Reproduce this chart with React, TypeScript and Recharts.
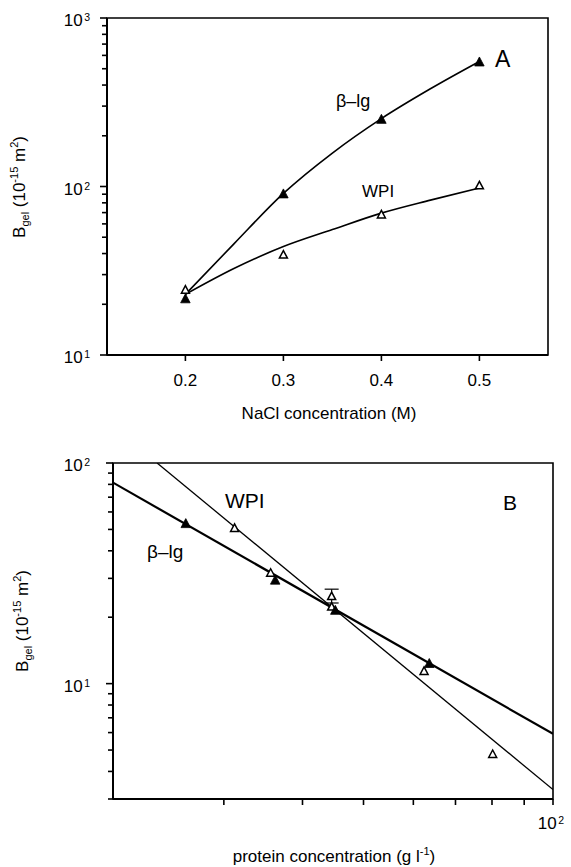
import React from 'react';
import { ComposedChart, Line, Scatter, XAxis, YAxis, ReferenceArea, ErrorBar } from 'recharts';

const FONT = '"Liberation Sans", Arial, Helvetica, sans-serif';

// ---- panel A : Bgel vs NaCl concentration ----
const naclConc = [0.2, 0.3, 0.4, 0.5];
const blgBgelA = [21.7, 91, 252, 552];
const wpiBgelA = [24.5, 39.6, 68.5, 102];
// fitted curves
const fitConcA = [0.2, 0.25, 0.3, 0.35, 0.4, 0.45, 0.5];
const blgFitA = [22.9, 46, 91, 158, 253, 380, 552];
const wpiFitA = [22.9, 32.7, 44, 55.5, 69.5, 83, 98];
const naclTicks = [0.2, 0.3, 0.4, 0.5];
const bgelTicksA = [10, 20, 30, 40, 50, 60, 70, 80, 90, 100, 200, 300, 400, 500, 600, 700, 800, 900, 1000];

// ---- panel B : Bgel vs protein concentration ----
const blgConcB = [26.1, 36.2, 45.1, 63.6];
const blgBgelB = [53.4, 29.6, 21.6, 12.4];
const wpiConcB = [31.2, 35.6, 44.5, 44.5, 62.4, 80.2];
const wpiBgelB = [50.9, 31.9, 25.0, 22.4, 11.45, 4.81];
const wpiErrConcB = [44.5];
const wpiErrBgelB = [25.0];
const wpiErrB = [1.8];
const blgFitConcB = [20, 100];
const blgFitB = [81.5, 5.92];
const wpiFitConcB = [23.5, 100];
const wpiFitB = [100, 3.31];
const protTicks = [30, 40, 50, 60, 70, 80, 90, 100];
const bgelTicksB = [3, 4, 5, 6, 7, 8, 9, 10, 20, 30, 40, 50, 60, 70, 80, 90, 100];

const pts = (xs: number[], ys: number[]) => xs.map((x, i) => ({ x, y: ys[i] }));

const Tri = ({ cx, cy, filled }: any) => {
  if (cx == null || cy == null) return <g />;
  const w = filled ? 9.5 : 8;
  const h = filled ? 9 : 7.5;
  return (
    <path
      d={`M${cx},${cy - h / 2} L${cx + w / 2},${cy + h / 2} L${cx - w / 2},${cy + h / 2} Z`}
      fill={filled ? '#000' : '#fff'}
      stroke="#000"
      strokeWidth={filled ? 0.8 : 1.5}
    />
  );
};

const LogYTick = ({ x, y, payload, gap }: any) => {
  const v = payload.value;
  const exp = Math.round(Math.log10(v));
  const major = Math.abs(Math.pow(10, exp) - v) < 1e-6;
  return (
    <g>
      <path d={`M${x - (major ? 7 : 5)},${y}H${x}`} stroke="#000" strokeWidth={1.6} fill="none" />
      {major && (
        <text x={x - gap} y={y + 8} textAnchor="end" fontSize={17} fontFamily={FONT} fill="#000">
          10<tspan dx={1.5} dy={-5} fontSize={10.5}>{exp}</tspan>
        </text>
      )}
    </g>
  );
};

const NaclTick = ({ x, y, payload }: any) => (
  <g>
    <path d={`M${x},${y}V${y + 6}`} stroke="#000" strokeWidth={1.6} fill="none" />
    <text x={x} y={y + 31} textAnchor="middle" fontSize={17} fontFamily={FONT} fill="#000">
      {payload.value.toFixed(1)}
    </text>
  </g>
);

const ProtTick = ({ x, y, payload }: any) => (
  <g>
    <path d={`M${x},${y}V${y + 6}`} stroke="#000" strokeWidth={1.6} fill="none" />
    {payload.value === 100 && (
      <text x={x - 2} y={y + 30} textAnchor="middle" fontSize={17} fontFamily={FONT} fill="#000">
        10<tspan dx={1.5} dy={-5} fontSize={10.5}>2</tspan>
      </text>
    )}
  </g>
);

const BgelTitle = ({ x, y }: { x: number; y: number }) => (
  <text transform={`translate(${x},${y}) rotate(-90)`} textAnchor="middle" fontSize={17} fontFamily={FONT} fill="#000">
    B<tspan fontSize={11} dy={4}>gel</tspan>
    <tspan dy={-4}> (10</tspan>
    <tspan fontSize={11} dy={-7}>-15</tspan>
    <tspan dy={7}> m</tspan>
    <tspan fontSize={11} dy={-7}>2</tspan>
    <tspan dy={7}>)</tspan>
  </text>
);

export default function App() {
  return (
    <div style={{ position: 'absolute', left: 0, top: 0, width: 571, height: 867, background: '#fff', overflow: 'hidden' }}>
      <div style={{ position: 'absolute', left: 0, top: 0 }}>
        <ComposedChart width={571} height={430} margin={{ top: 18, right: 23, bottom: 0, left: 0 }}>
          <XAxis
            type="number"
            dataKey="x"
            domain={[0.12, 0.57]}
            ticks={naclTicks}
            interval={0}
            allowDataOverflow
            height={75}
            tickSize={0}
            tickMargin={0}
            tickLine={false}
            axisLine={{ stroke: '#000', strokeWidth: 2 }}
            tick={(p: any) => <NaclTick {...p} />}
          />
          <YAxis
            type="number"
            scale="log"
            domain={[10, 1000]}
            ticks={bgelTicksA}
            interval={0}
            allowDataOverflow
            width={107}
            tickSize={0}
            tickMargin={0}
            tickLine={false}
            axisLine={{ stroke: '#000', strokeWidth: 2 }}
            tick={(p: any) => <LogYTick {...p} gap={17} />}
          />
          <ReferenceArea x1={0.12} x2={0.57} y1={10} y2={1000} fill="none" stroke="#000" strokeWidth={1.6} ifOverflow="visible" />
          <Line data={pts(fitConcA, blgFitA)} dataKey="y" type="monotone" stroke="#000" strokeWidth={1.6} dot={false} isAnimationActive={false} />
          <Line data={pts(fitConcA, wpiFitA)} dataKey="y" type="monotone" stroke="#000" strokeWidth={1.6} dot={false} isAnimationActive={false} />
          <Scatter data={pts(naclConc, wpiBgelA)} dataKey="y" shape={(p: any) => <Tri {...p} />} isAnimationActive={false} />
          <Scatter data={pts(naclConc, blgBgelA)} dataKey="y" shape={(p: any) => <Tri {...p} filled />} isAnimationActive={false} />
        </ComposedChart>
      </div>

      <div style={{ position: 'absolute', left: 0, top: 440 }}>
        <ComposedChart width={571} height={427} margin={{ top: 23, right: 18, bottom: 0, left: 0 }}>
          <XAxis
            type="number"
            dataKey="x"
            scale="log"
            domain={[20, 100]}
            ticks={protTicks}
            interval={0}
            allowDataOverflow
            height={68}
            tickSize={0}
            tickMargin={0}
            tickLine={false}
            axisLine={{ stroke: '#000', strokeWidth: 2 }}
            tick={(p: any) => <ProtTick {...p} />}
          />
          <YAxis
            type="number"
            scale="log"
            domain={[3, 100]}
            ticks={bgelTicksB}
            interval={0}
            allowDataOverflow
            width={113}
            tickSize={0}
            tickMargin={0}
            tickLine={false}
            axisLine={{ stroke: '#000', strokeWidth: 2 }}
            tick={(p: any) => <LogYTick {...p} gap={23} />}
          />
          <ReferenceArea x1={20} x2={100} y1={3} y2={100} fill="none" stroke="#000" strokeWidth={1.6} ifOverflow="visible" />
          <Line data={pts(blgFitConcB, blgFitB)} dataKey="y" type="linear" stroke="#000" strokeWidth={2.2} dot={false} isAnimationActive={false} />
          <Line data={pts(wpiFitConcB, wpiFitB)} dataKey="y" type="linear" stroke="#000" strokeWidth={1.3} dot={false} isAnimationActive={false} />
          <Scatter
            data={wpiErrConcB.map((x, i) => ({ x, y: wpiErrBgelB[i], err: wpiErrB[i] }))}
            dataKey="y"
            shape={() => <g />}
            isAnimationActive={false}
          >
            <ErrorBar dataKey="err" direction="y" width={7} stroke="#000" strokeWidth={1.2} isAnimationActive={false} />
          </Scatter>
          <Scatter data={pts(wpiConcB, wpiBgelB)} dataKey="y" shape={(p: any) => <Tri {...p} />} isAnimationActive={false} />
          <Scatter data={pts(blgConcB, blgBgelB)} dataKey="y" shape={(p: any) => <Tri {...p} filled />} isAnimationActive={false} />
        </ComposedChart>
      </div>

      <svg width={571} height={867} style={{ position: 'absolute', left: 0, top: 0, pointerEvents: 'none' }}>
        <g fontFamily={FONT} fill="#000">
          {/* panel A */}
          <text x={336} y={107} fontSize={18}>β–lg</text>
          <text x={362} y={197} fontSize={17}>WPI</text>
          <text x={495} y={67} fontSize={23}>A</text>
          <text x={329} y={419} textAnchor="middle" fontSize={17}>NaCl concentration (M)</text>
          <BgelTitle x={25} y={187} />
          {/* panel B */}
          <text x={225} y={508} fontSize={21}>WPI</text>
          <text x={147} y={558} fontSize={19}>β–lg</text>
          <text x={503} y={510} fontSize={21}>B</text>
          <text x={334} y={862} textAnchor="middle" fontSize={17}>
            protein concentration (g l<tspan fontSize={11} dy={-7}>-1</tspan><tspan dy={7}>)</tspan>
          </text>
          <BgelTitle x={28} y={621} />
        </g>
      </svg>
    </div>
  );
}
